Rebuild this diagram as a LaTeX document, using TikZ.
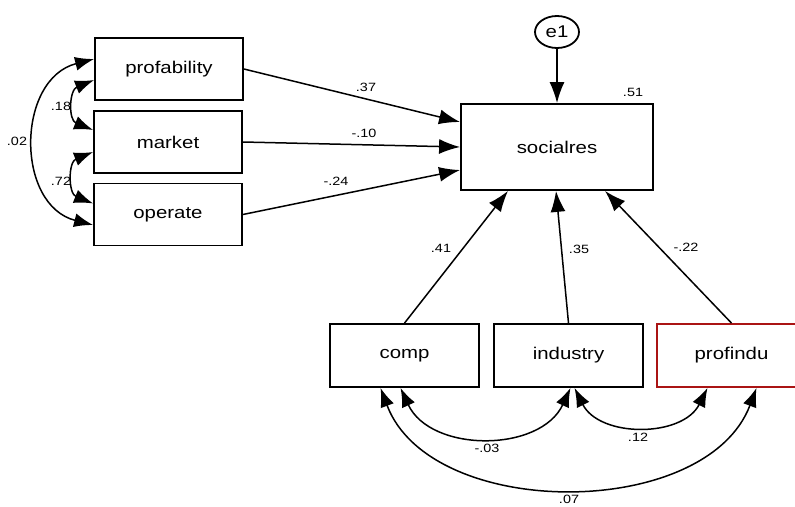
\documentclass[tikz,border=0pt]{standalone}
\usepackage{fontspec}
\setmainfont{Liberation Sans}[FakeStretch=1.2]
\usepackage{tikz}
\usetikzlibrary{calc,arrows.meta,shapes.geometric}
\definecolor{amosred}{RGB}{170,20,20}

\begin{document}
\begin{tikzpicture}[x=1pt,y=-1pt,
    var/.style={draw,line width=1.8pt,minimum width=148pt,minimum height=62pt,inner sep=0pt,font=\fontsize{17}{20}\selectfont},
    coef/.style={inner sep=0pt,font=\fontsize{12}{14}\selectfont},
    path/.style={line width=1.5pt,-{Latex[length=21pt,width=15pt]}},
    cov/.style={line width=1.5pt,{Latex[length=19pt,width=14pt]}-{Latex[length=19pt,width=14pt]}}]
    \useasboundingbox (0,0) rectangle (795,506);
    % exogenous, left
    \node[var] (prof) at (169,69) {profability};
    \node[var] (market) at (168,142) {market};
    \node[var] (operate) at (168,214.5) {operate};
    % endogenous and error
    \node[var,minimum width=192pt,minimum height=86pt] (soc) at (557,147) {socialres};
    \node[draw,ellipse,line width=1.8pt,minimum width=44pt,minimum height=32pt,inner sep=0pt,font=\fontsize{17}{20}\selectfont] (e1) at (557,32) {e1};
    % exogenous, bottom
    \node[var,minimum width=149pt,minimum height=63pt] (comp) at (404.5,355.5) {comp};
    \node[var,minimum width=149pt,minimum height=63pt] (industry) at (568.5,355.5) {industry};
    \node[var,minimum width=149pt,minimum height=63pt,draw=amosred] (profindu) at (731.5,355.5) {profindu};
    % regression paths
    \draw[path] (e1) -- (e1 |- soc.north);
    \draw[path] (prof.east) -- ([yshift=25pt]soc.west);
    \draw[path] (market.east) -- (soc.west);
    \draw[path] (operate.east) -- ([yshift=-23pt]soc.west);
    \draw[path] (comp.north) -- ([xshift=-49pt]soc.south);
    \draw[path] (industry.north) -- ([xshift=-1pt]soc.south);
    \draw[path] (profindu.north) -- ([xshift=48pt]soc.south);
    % covariances
    \draw[cov] ([yshift=-11pt]prof.west) .. controls +(-25,10) and +(-25,-10) .. ([yshift=12pt]market.west);
    \draw[cov] ([yshift=-10pt]market.west) .. controls +(-25,10) and +(-25,-10) .. ([yshift=11pt]operate.west);
    \draw[cov] ([yshift=10pt]prof.west) .. controls +(-78,20) and +(-78,-20) .. ([yshift=-10.5pt]operate.west);
    \draw[cov] ([xshift=-4pt]comp.south) .. controls +(30,65) and +(-30,65) .. ([xshift=2pt]industry.south);
    \draw[cov] ([xshift=6pt]industry.south) .. controls +(25,50) and +(-25,50) .. ([xshift=-24pt]profindu.south);
    \draw[cov] ([xshift=-24pt]comp.south) .. controls +(50,133) and +(-50,133) .. ([xshift=25pt]profindu.south);
    % estimates
    \node[coef] at (366,87) {.37};
    \node[coef] at (364,133) {-.10};
    \node[coef] at (336,181) {-.24};
    \node[coef] at (633,92) {.51};
    \node[coef] at (441,248) {.41};
    \node[coef] at (579,249) {.35};
    \node[coef] at (686,247) {-.22};
    \node[coef] at (61,106) {.18};
    \node[coef] at (61,181) {.72};
    \node[coef] at (17,141) {.02};
    \node[coef] at (487,448) {-.03};
    \node[coef] at (638,437) {.12};
    \node[coef] at (569,499) {.07};
\end{tikzpicture}
\end{document}
